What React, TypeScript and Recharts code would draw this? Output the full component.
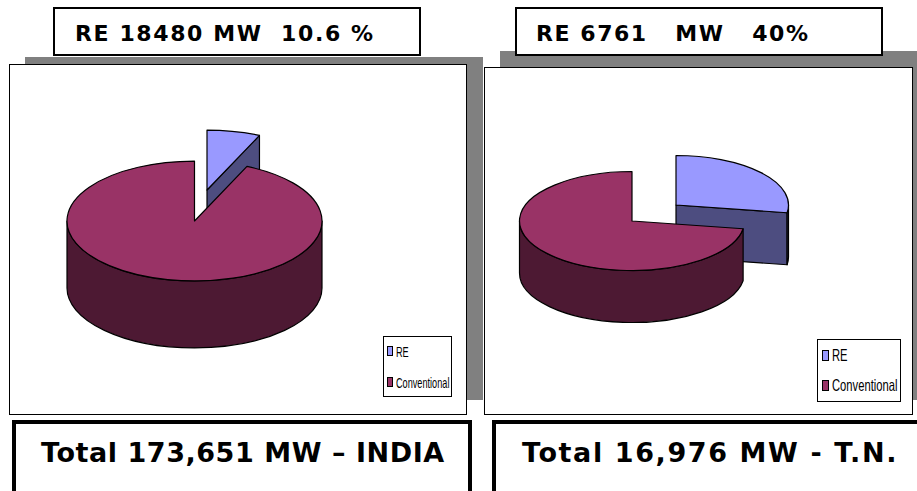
import { PieChart, Pie, Cell, Legend } from "recharts";

const categories = ["RE", "Conventional"];
const indiaShares = [6.75, 93.25];
const tnShares = [27.5, 72.5];
const topColors = ["#9999FF", "#993366"];
const sideColors = ["#4D4D80", "#4D1933"];

const toRows = (shares: number[]) => categories.map((name, i) => ({ name, value: shares[i] }));

// flattened 3D pie: ellipse ratio, wall depth and how far the RE slice is pulled out
function makeSlice(tilt: number, depth: number, explode: { x: number; y: number }) {
  return function Slice(props: any) {
    const { outerRadius, startAngle, endAngle, name } = props;
    const idx = categories.indexOf(name);
    const cx = props.cx + (idx === 0 ? explode.x : 0);
    const cy = props.cy + (idx === 0 ? explode.y : 0);
    const rx = outerRadius;
    const ry = outerRadius * tilt;
    const pt = (a: number) => {
      const t = (a * Math.PI) / 180;
      return [cx + rx * Math.cos(t), cy - ry * Math.sin(t)];
    };
    const [sx, sy] = pt(startAngle);
    const [ex, ey] = pt(endAngle);
    const large = startAngle - endAngle > 180 ? 1 : 0;
    const top = `M${cx},${cy} L${sx},${sy} A${rx},${ry} 0 ${large} 1 ${ex},${ey} Z`;

    const walls: string[] = [];
    const cut = (x: number, y: number) =>
      `M${cx},${cy} L${x},${y} L${x},${y + depth} L${cx},${cy + depth} Z`;
    if (Math.cos((startAngle * Math.PI) / 180) < -0.001) walls.push(cut(sx, sy));
    if (Math.cos((endAngle * Math.PI) / 180) > 0.001) walls.push(cut(ex, ey));

    const hi = Math.min(startAngle, 0);
    const lo = Math.max(endAngle, -180);
    if (hi > lo) {
      const [hx, hy] = pt(hi);
      const [lx, ly] = pt(lo);
      walls.push(
        `M${hx},${hy} A${rx},${ry} 0 0 1 ${lx},${ly} L${lx},${ly + depth} A${rx},${ry} 0 0 0 ${hx},${hy + depth} Z`
      );
    }

    return (
      <g stroke="#000" strokeWidth={1.2} strokeLinejoin="round">
        {walls.map((d) => (
          <path key={d} d={d} fill={sideColors[idx]} />
        ))}
        <path d={top} fill={topColors[idx]} />
      </g>
    );
  };
}

function LegendBox({ payload, cfg }: any) {
  return (
    <div
      style={{
        width: cfg.w,
        height: cfg.h,
        boxSizing: "border-box",
        border: "1px solid #000",
        background: "#fff",
        display: "flex",
        flexDirection: "column",
        rowGap: cfg.rowGap,
        padding: `${cfg.padTop}px 0 0 ${cfg.padLeft}px`,
      }}
    >
      {(payload ?? []).map((p: any) => (
        <div key={p.value} style={{ display: "flex", alignItems: "center", height: 16, gap: 3, fontSize: cfg.font, fontFamily: "'Liberation Sans', sans-serif", color: "#000", whiteSpace: "nowrap" }}>
          <span style={{ flexShrink: 0, boxSizing: "border-box", width: cfg.swatchW, height: cfg.swatchH, background: p.color, border: "1px solid #000", display: "inline-block" }} />
          <span style={{ display: "inline-block", transform: `scaleX(${cfg.squeeze})`, transformOrigin: "left center" }}>{p.value}</span>
        </div>
      ))}
    </div>
  );
}

type PanelProps = {
  left: number;
  top: number;
  width: number;
  height: number;
  shares: number[];
  cx: number;
  cy: number;
  radius: number;
  tilt: number;
  depth: number;
  explode: { x: number; y: number };
  legend: any;
};

function PiePanel({ left, top, width, height, shares, cx, cy, radius, tilt, depth, explode, legend }: PanelProps) {
  const Slice = makeSlice(tilt, depth, explode);
  return (
    <div style={{ position: "absolute", left, top, width, height, boxSizing: "border-box", border: "1px solid #000", background: "#fff" }}>
      <PieChart width={width - 2} height={height - 2} margin={{ top: 0, right: 0, bottom: 0, left: 0 }}>
        <Pie
          data={toRows(shares)}
          dataKey="value"
          nameKey="name"
          cx={cx}
          cy={cy}
          outerRadius={radius}
          startAngle={90}
          endAngle={-270}
          stroke="none"
          shape={Slice}
          isAnimationActive={false}
        >
          {categories.map((c, i) => (
            <Cell key={c} fill={topColors[i]} />
          ))}
        </Pie>
        <Legend
          layout="horizontal"
          verticalAlign="middle"
          align="center"
          itemSorter={null}
          wrapperStyle={{ left: legend.x, top: legend.y, width: legend.w, height: legend.h }}
          content={(p: any) => <LegendBox payload={p.payload} cfg={legend} />}
        />
      </PieChart>
    </div>
  );
}

const boxText = (extra: any) => ({
  position: "absolute" as const,
  whiteSpace: "pre" as const,
  fontFamily: "'DejaVu Sans', sans-serif",
  fontWeight: 700,
  color: "#000",
  ...extra,
});

export default function App() {
  return (
    <div style={{ position: "absolute", left: 0, top: 0, width: 917, height: 491, overflow: "hidden", background: "#fff" }}>
      <div style={{ position: "absolute", left: 25, top: 57, width: 458, height: 343, background: "#808080" }} />
      <div style={{ position: "absolute", left: 500, top: 51, width: 417, height: 349, background: "#808080" }} />

      <PiePanel
        left={9}
        top={64}
        width={458}
        height={351}
        shares={indiaShares}
        cx={184.5}
        cy={156}
        radius={127.5}
        tilt={0.47}
        depth={67}
        explode={{ x: 12.5, y: -31 }}
        legend={{ x: 373, y: 271, w: 69, h: 61, font: 15, squeeze: 0.61, swatchW: 6, swatchH: 10, rowGap: 15, padTop: 6, padLeft: 3 }}
      />
      <PiePanel
        left={484}
        top={67}
        width={429}
        height={348}
        shares={tnShares}
        cx={147}
        cy={153}
        radius={112.5}
        tilt={0.44}
        depth={52}
        explode={{ x: 44, y: -16 }}
        legend={{ x: 332, y: 271, w: 84, h: 63, font: 16.5, squeeze: 0.68, swatchW: 7, swatchH: 11, rowGap: 14, padTop: 7, padLeft: 4 }}
      />

      <div style={{ position: "absolute", left: 53, top: 7, width: 368, height: 49, boxSizing: "border-box", border: "2px solid #000", background: "#fff" }} />
      <div style={{ position: "absolute", left: 515, top: 7, width: 368, height: 49, boxSizing: "border-box", border: "2px solid #000", background: "#fff" }} />
      <div style={boxText({ left: 75, top: 21, fontSize: 22, letterSpacing: 1.6 })}>RE 18480 MW  10.6 %</div>
      <div style={boxText({ left: 536, top: 21, fontSize: 22, letterSpacing: 1.55 })}>RE 6761   MW   40%</div>

      <div style={{ position: "absolute", left: 12, top: 420, width: 460, height: 90, boxSizing: "border-box", border: "4px solid #000" }} />
      <div style={{ position: "absolute", left: 492, top: 420, width: 440, height: 90, boxSizing: "border-box", border: "4px solid #000" }} />
      <div style={boxText({ left: 41, top: 437, fontSize: 27, letterSpacing: 0.55 })}>Total 173,651 MW – INDIA</div>
      <div style={boxText({ left: 522, top: 437, fontSize: 27, letterSpacing: 1.6 })}>Total 16,976 MW - T.N.</div>
    </div>
  );
}
